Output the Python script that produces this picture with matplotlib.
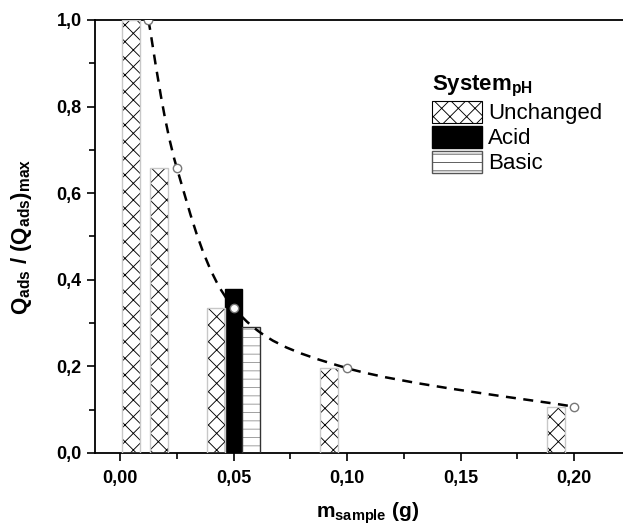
import matplotlib
matplotlib.use("Agg")
import matplotlib.pyplot as plt
import matplotlib.ticker as ticker
from matplotlib.path import Path
from matplotlib.patches import PathPatch, Patch
import numpy as np

plt.rcParams['font.family'] = ['Liberation Sans', 'DejaVu Sans']
plt.rcParams['font.weight'] = 'bold'
plt.rcParams['mathtext.fontset'] = 'custom'
plt.rcParams['mathtext.rm'] = 'Liberation Sans:bold'
plt.rcParams['mathtext.bf'] = 'Liberation Sans:bold'
plt.rcParams['mathtext.default'] = 'rm'
plt.rcParams['hatch.linewidth'] = 0.65

# sample mass (g) and normalised adsorbed quantity
mass = [0.0125, 0.025, 0.05, 0.10, 0.20]
q_unchanged = [1.0, 0.659, 0.336, 0.196, 0.107]
mass_ph = [0.05]
q_acid = [0.379]
q_basic = [0.292]
bar_w = 0.0078

W, H = 623, 528
fig = plt.figure(figsize=(W / 100, H / 100), dpi=100)
# axes run past the right edge of the figure
ax_left, ax_w = 95, 545
ax = fig.add_axes([ax_left / W, 75 / H, ax_w / W, 433 / H])

# unchanged: black hatch, light grey outline drawn on top
ux = [m - bar_w for m in mass]
ax.bar(ux, q_unchanged, width=bar_w, color='white', edgecolor='black',
       linewidth=0, hatch='xx', zorder=2)
ax.bar(ux, q_unchanged, width=bar_w, fill=False, edgecolor='#c8c8c8',
       linewidth=1.0, zorder=3)
ax.bar(mass_ph, q_acid, width=bar_w, color='black', edgecolor='black',
       linewidth=1.0, zorder=2)
bx = [m + bar_w for m in mass_ph]
ax.bar(bx, q_basic, width=bar_w, color='white', edgecolor='#999999',
       linewidth=0, hatch='--', zorder=2)
ax.bar(bx, q_basic, width=bar_w, fill=False, edgecolor='#333333',
       linewidth=1.0, zorder=3)

# smooth dashed trend through the points (Catmull-Rom as cubic Bezier)
pts = np.column_stack([mass, q_unchanged])
verts = [pts[0]]
codes = [Path.MOVETO]
for i in range(len(pts) - 1):
    p0 = pts[i - 1] if i > 0 else pts[i]
    p1, p2 = pts[i], pts[i + 1]
    p3 = pts[i + 2] if i + 2 < len(pts) else pts[i + 1]
    verts += [p1 + (p2 - p0) / 6, p2 - (p3 - p1) / 6, p2]
    codes += [Path.CURVE4] * 3
ax.add_patch(PathPatch(Path(verts, codes), fill=False, edgecolor='black',
                       linewidth=1.8, linestyle=(0, (4, 3)), zorder=4))

ax.plot(mass, q_unchanged, 'o', markersize=6, markerfacecolor='white',
        markeredgecolor='#777777', markeredgewidth=1.0, zorder=5)

px_per_unit = 2270.0
x0 = -25 / px_per_unit
ax.set_xlim(x0, x0 + ax_w / px_per_unit)
ax.set_ylim(0, 1.0)
ax.xaxis.set_major_locator(ticker.MultipleLocator(0.05))
ax.xaxis.set_minor_locator(ticker.MultipleLocator(0.025))
ax.yaxis.set_major_locator(ticker.MultipleLocator(0.2))
ax.yaxis.set_minor_locator(ticker.MultipleLocator(0.1))
ax.xaxis.set_major_formatter(ticker.FuncFormatter(lambda v, p: f"{v:.2f}".replace('.', ',')))
ax.yaxis.set_major_formatter(ticker.FuncFormatter(lambda v, p: f"{v:.1f}".replace('.', ',')))
ax.tick_params(which='major', direction='out', length=6, width=1.2, labelsize=13)
ax.tick_params(which='minor', direction='out', length=4, width=1.2)
ax.tick_params(axis='x', pad=6)
for s in ['left', 'bottom', 'top']:
    ax.spines[s].set_linewidth(1.3)
ax.spines['right'].set_visible(False)

ax.set_xlabel(r'm$_{sample}$ (g)', fontsize=15, fontweight='bold', labelpad=10)
ax.set_ylabel(r'Q$_{ads}$ / (Q$_{ads}$)$_{max}$', fontsize=16, fontweight='bold', labelpad=16)

handles = [Patch(facecolor='white', edgecolor='black', hatch='xx', linewidth=0.8),
           Patch(facecolor='black', edgecolor='black'),
           Patch(facecolor='white', edgecolor='#555555', hatch='--', linewidth=1.0)]
leg = ax.legend(handles, ['Unchanged', 'Acid', 'Basic'], loc='upper left',
                bbox_to_anchor=(411.5 / W, 1 - 54 / H), bbox_transform=fig.transFigure,
                frameon=False, prop={'size': 16, 'weight': 'normal'},
                handlelength=2.25, handleheight=1.15, labelspacing=0.07,
                handletextpad=0.3, title=r'System$_{pH}$', alignment='left')
leg.get_title().set_fontsize(16)
leg.get_title().set_fontweight('bold')

fig.savefig('out.png', dpi=100)
